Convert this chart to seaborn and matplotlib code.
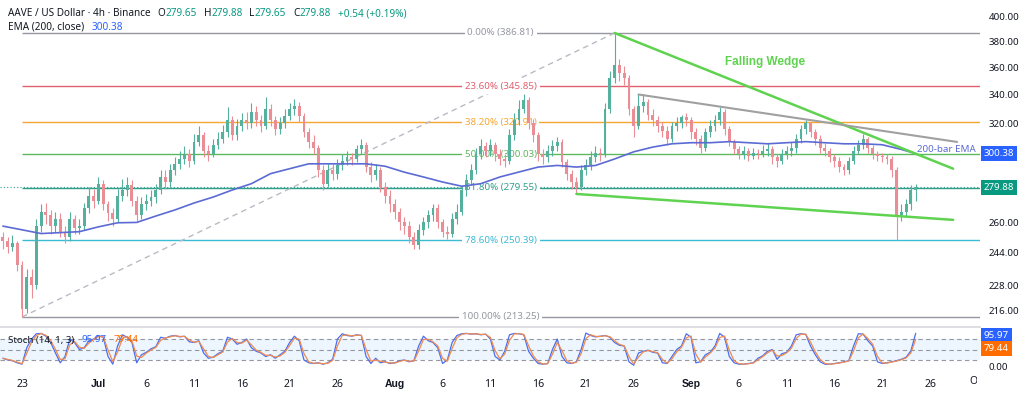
import numpy as np
import pandas as pd
import matplotlib
matplotlib.use("Agg")
import matplotlib.pyplot as plt
import matplotlib.dates as mdates
import matplotlib.transforms as mtrans
from matplotlib.ticker import FixedLocator, NullLocator
from matplotlib.offsetbox import TextArea, HPacker, AnchoredOffsetbox
import seaborn as sns

# 12h candles, 21 Jun -> 24 Sep
candle_start = "2025-06-21 00:00"
first_open = 252
closes = [250, 247, 249, 238, 217, 232, 228, 258, 266, 264,
          258, 262, 255, 252, 262, 257, 258, 268, 275, 272,
          282, 270, 265, 262, 275, 278, 281, 272, 264, 270,
          272, 274, 278, 286, 283, 290, 294, 297, 300, 296,
          308, 312, 302, 300, 306, 310, 314, 322, 312, 318,
          322, 320, 328, 322, 318, 330, 322, 316, 320, 325,
          330, 332, 325, 314, 308, 304, 290, 282, 290, 288,
          293, 296, 298, 297, 303, 306, 292, 287, 290, 280,
          275, 270, 266, 260, 258, 252, 248, 256, 260, 264,
          268, 260, 255, 254, 262, 266, 278, 284, 290, 300,
          305, 302, 306, 300, 297, 296, 312, 322, 330, 336,
          320, 312, 300, 298, 302, 305, 308, 295, 288, 283,
          280, 290, 293, 298, 301, 300, 330, 352, 362, 356,
          352, 330, 318, 332, 335, 326, 322, 318, 315, 310,
          318, 320, 324, 322, 314, 310, 304, 314, 318, 322,
          328, 316, 308, 303, 300, 302, 299, 301, 300, 302,
          303, 298, 296, 300, 302, 304, 310, 316, 320, 314,
          310, 304, 302, 298, 296, 292, 290, 296, 302, 306,
          310, 304, 300, 299, 298, 297, 290, 264, 266, 270,
          278, 279.88]
highs = [255, 252, 253, 250, 240, 236, 236, 262, 270, 271,
         267, 266, 265, 258, 266, 264, 262, 271, 280, 279,
         286, 284, 272, 268, 279, 285, 286, 284, 275, 274,
         276, 278, 282, 290, 290, 294, 298, 302, 305, 303,
         313, 318, 314, 306, 310, 314, 319, 331, 325, 323,
         327, 328, 334, 332, 326, 338, 333, 325, 324, 330,
         334, 337, 335, 327, 317, 312, 306, 293, 294, 294,
         297, 300, 302, 301, 306, 310, 308, 295, 294, 292,
         283, 278, 273, 268, 263, 261, 255, 259, 263, 267,
         270, 270, 262, 258, 265, 270, 281, 288, 294, 304,
         310, 308, 310, 308, 303, 300, 316, 327, 336, 340,
         338, 323, 314, 303, 306, 309, 311, 310, 297, 290,
         286, 293, 297, 302, 305, 304, 334, 357, 386.81, 366,
         361, 354, 332, 340, 340, 337, 330, 325, 321, 318,
         321, 324, 326, 327, 324, 317, 312, 317, 322, 326,
         331, 330, 318, 310, 305, 305, 304, 304, 303, 306,
         307, 305, 300, 303, 305, 308, 313, 319, 322, 321,
         316, 312, 307, 304, 300, 298, 294, 298, 305, 309,
         313, 311, 306, 302, 301, 300, 299, 292, 270, 273,
         281, 282]
lows = [246, 244, 245, 235, 213.25, 215, 222, 226, 255, 259,
        254, 255, 252, 249, 250, 254, 254, 256, 265, 268,
        270, 267, 261, 258, 260, 272, 275, 269, 261, 262,
        267, 269, 271, 276, 279, 280, 287, 291, 294, 292,
        294, 305, 298, 296, 298, 303, 307, 311, 309, 309,
        315, 316, 317, 318, 314, 316, 318, 312, 313, 317,
        322, 326, 321, 311, 304, 300, 286, 278, 280, 284,
        285, 290, 293, 293, 295, 300, 289, 283, 284, 277,
        271, 266, 262, 256, 254, 249, 246, 246, 253, 257,
        261, 257, 252, 251, 252, 259, 264, 275, 281, 288,
        297, 298, 299, 296, 293, 292, 294, 309, 319, 327,
        316, 308, 296, 294, 295, 299, 302, 292, 284, 279,
        276, 278, 287, 290, 295, 296, 298, 327, 348, 350,
        347, 326, 311, 316, 328, 322, 318, 314, 311, 306,
        308, 315, 317, 318, 310, 306, 301, 302, 311, 315,
        319, 312, 305, 300, 297, 297, 296, 297, 297, 298,
        299, 294, 292, 294, 297, 299, 301, 307, 313, 311,
        306, 301, 299, 295, 292, 289, 287, 288, 294, 300,
        303, 301, 297, 296, 295, 294, 286, 250.39, 261, 263,
        267, 272]

# EMA(200) read every 4th candle, plus the last one
ema_vals = [258, 256, 254, 254.5, 255, 257.6, 259.8, 260, 263.5, 266.9,
            270.8, 274.2, 278.3, 282, 288, 291, 294, 294, 294, 294,
            292.5, 288.9, 286, 283, 280.5, 282, 286, 289, 292, 293,
            292, 293, 297, 301.5, 304.5, 306.6, 307.3, 307.3, 308, 307.3,
            306.6, 307.3, 308, 307.3, 306.6, 306.6, 306, 303, 300.38]

stoch_k = [25, 20, 18, 12, 8, 55, 80, 95, 96, 88,
           70, 40, 12, 30, 80, 70, 50, 55, 75, 80,
           90, 85, 30, 8, 60, 92, 85, 70, 12, 35,
           42, 52, 58, 85, 82, 88, 90, 86, 88, 72,
           70, 75, 40, 25, 28, 38, 45, 85, 80, 65,
           70, 80, 55, 45, 40, 30, 35, 25, 35, 45,
           70, 88, 75, 20, 12, 10, 12, 8, 12, 22,
           80, 95, 90, 88, 92, 90, 30, 10, 25, 12,
           15, 10, 12, 18, 20, 15, 18, 60, 88, 75,
           70, 55, 10, 20, 70, 90, 95, 96, 94, 95,
           92, 94, 80, 30, 20, 45, 92, 96, 95, 92,
           45, 25, 10, 8, 10, 50, 80, 30, 12, 10,
           15, 50, 97, 90, 86, 88, 90, 85, 70, 62,
           60, 15, 5, 40, 45, 48, 42, 40, 12, 10,
           30, 50, 60, 95, 85, 12, 15, 35, 42, 60,
           96, 85, 30, 12, 8, 8, 10, 12, 25, 32,
           45, 50, 22, 38, 42, 60, 92, 95, 93, 60,
           35, 15, 8, 8, 10, 12, 15, 18, 60, 95,
           94, 75, 60, 15, 10, 12, 15, 18, 22, 28,
           46.4, 95.97]

fib_pcts = ["0.00%", "23.60%", "38.20%", "50.00%", "61.80%", "78.60%", "100.00%"]
fib_prices = [386.81, 345.85, 320.91, 300.03, 279.55, 250.39, 213.25]
fib_colors = ["#9598a1", "#e0606e", "#f7a634", "#5cb85c", "#2f9e8b", "#3cbcd4", "#9598a1"]

# trend lines (dates, prices)
wedge_top = (["2025-08-24 00:00", "2025-09-28 10:00"], [386.81, 291.0])
wedge_bottom = (["2025-08-20 00:00", "2025-09-28 10:00"], [276.0, 261.4])
gray_top = (["2025-08-26 12:00", "2025-09-28 20:00"], [340.0, 307.8])

price_ticks = [216, 228, 244, 260, 320, 340, 360, 380, 400]
tick_dates = ["2025-06-23", "2025-07-01", "2025-07-06", "2025-07-11", "2025-07-16",
              "2025-07-21", "2025-07-26", "2025-08-01", "2025-08-06", "2025-08-11",
              "2025-08-16", "2025-08-21", "2025-08-26", "2025-09-01", "2025-09-06",
              "2025-09-11", "2025-09-16", "2025-09-21", "2025-09-26"]
tick_labels = ["23", "Jul", "6", "11", "16", "21", "26", "Aug", "6", "11",
               "16", "21", "26", "Sep", "6", "11", "16", "21", "26"]

last_close = 279.88
last_ema = 300.38
last_k = 95.97
last_d = 79.44

UP, DOWN = "#55b09e", "#ea8d94"
EMA_C = "#5c6bd4"
GREEN = "#5fd34f"
TEXT_C = "#131722"
TEAL = "#089981"
BOLD_FONT = ["Liberation Sans", "DejaVu Sans"]

sns.set_theme(style="white")
plt.rcParams["font.family"] = ["Noto Sans", "DejaVu Sans"]

W, H = 1024, 398
fig = plt.figure(figsize=(W / 100, H / 100), dpi=100)
fig.patch.set_facecolor("white")


def px_rect(l, t, r, b):
    return [l / W, 1 - b / H, (r - l) / W, (b - t) / H]


ax = fig.add_axes(px_rect(0, 4, 980, 327))
ax2 = fig.add_axes(px_rect(0, 329, 980, 372), sharex=ax)

d2n = lambda s: mdates.date2num(pd.to_datetime(s))
times = pd.date_range(candle_start, periods=len(closes), freq="12h")
x = mdates.date2num(times.to_pydatetime())
x_left = d2n("2025-06-20 16:45")
x_right = d2n("2025-10-01 05:30")

# candles
opens = [first_open] + closes[:-1]
df = pd.DataFrame(dict(x=x, o=opens, h=highs, l=lows, c=closes))
col = np.where(df.c >= df.o, UP, DOWN)
ax.vlines(df.x, df.l, df.h, colors=col, lw=0.8, zorder=3)
ax.bar(df.x, (df.c - df.o).abs().clip(lower=0.7), bottom=df[["o", "c"]].min(axis=1),
       width=0.3, color=col, lw=0, zorder=3)

# fib retracement
fib_x0 = x[4]
label_x = d2n("2025-08-12 02:00")
for pct, p, c in zip(fib_pcts, fib_prices, fib_colors):
    ax.hlines(p, fib_x0, x_right, colors=c, lw=1, zorder=2)
    ax.text(label_x, p, f"{pct} ({p:.2f})", color=c, fontsize=7, ha="center", va="center",
            zorder=2.5, bbox=dict(boxstyle="square,pad=0.3", fc="white", ec="none"))
ax.plot([x[4], x[128]], [213.25, 386.81], color="#b8bbc4", lw=1, ls=(0, (4, 3)), zorder=2)
ax.axhline(last_close, color="#2f9e8b", lw=0.8, ls=(0, (1, 2)), zorder=2)

# EMA
ema_idx = list(range(0, len(closes), 4)) + [len(closes) - 1]
sns.lineplot(x=x[ema_idx], y=ema_vals, ax=ax, color=EMA_C, lw=1.2, zorder=4)

# trend lines
for (ds, ps), c, lw in [(wedge_top, GREEN, 1.8), (wedge_bottom, GREEN, 1.8), (gray_top, "#a0a0a0", 1.5)]:
    ax.plot([d2n(d) for d in ds], ps, color=c, lw=lw, zorder=5, solid_capstyle="round")

ax.text(d2n("2025-09-08 18:00"), 364, "Falling Wedge", color=GREEN, fontsize=8.5,
        fontweight="bold", family=BOLD_FONT, ha="center", va="center", zorder=6)
ax.text(x[-1] + 0.1, 303, "200-bar EMA", color=EMA_C, fontsize=7, ha="left", va="center", zorder=6)

ax.set_yscale("log")
ax.set_ylim(208.8, 411.05)
ax.set_xlim(x_left, x_right)
ax.yaxis.set_major_locator(FixedLocator(price_ticks))
ax.yaxis.set_minor_locator(NullLocator())
ax.set_yticklabels([f"{v:.2f}" for v in price_ticks])
ax.yaxis.tick_right()
ax.tick_params(axis="y", length=0, pad=6, labelsize=7, labelcolor=TEXT_C)
ax.tick_params(axis="x", bottom=False, labelbottom=False)
for s in ax.spines.values():
    s.set_visible(False)
ax.spines["bottom"].set_visible(True)
ax.spines["bottom"].set_color("#d9dbe0")
ax.set_xlabel("")
ax.set_ylabel("")

blend = mtrans.blended_transform_factory(ax.transAxes, ax.transData)
ax.text(1.004, last_ema, f"{last_ema:.2f}", transform=blend, color="white", fontsize=7,
        ha="left", va="center", bbox=dict(boxstyle="square,pad=0.3", fc="#2962ff", ec="none"))
ax.text(1.004, last_close, f"{last_close:.2f}", transform=blend, color="white", fontsize=7,
        ha="left", va="center", bbox=dict(boxstyle="square,pad=0.3", fc=TEAL, ec="none"))

# stochastic panel
k = np.array(stoch_k, dtype=float)
d = k.copy()
d[1:] = (2 * k[1:] + k[:-1]) / 3  # %D trails %K by about one 4h bar
ax2.axhspan(20, 80, color="#2196f3", alpha=0.08, lw=0)
for lvl in (20, 50, 80):
    ax2.axhline(lvl, color="#9598a1", lw=0.8, ls=(0, (4, 3)))
sns.lineplot(x=x, y=k, ax=ax2, color="#4a6ff0", lw=0.9)
sns.lineplot(x=x, y=d, ax=ax2, color="#f08a50", lw=0.9)
ax2.set_ylim(-14.3, 108.6)
ax2.set_xlim(x_left, x_right)
ax2.yaxis.set_major_locator(FixedLocator([0]))
ax2.set_yticklabels(["0.00"])
ax2.yaxis.tick_right()
ax2.tick_params(axis="y", length=0, pad=6, labelsize=7, labelcolor=TEXT_C)
ax2.set_xticks([d2n(t) for t in tick_dates], tick_labels)
ax2.tick_params(axis="x", length=0, pad=5, labelsize=7.5, labelcolor=TEXT_C)
for lbl in ax2.get_xticklabels():
    if lbl.get_text() in ("Jul", "Aug", "Sep"):
        lbl.set_fontweight("bold")
        lbl.set_family(BOLD_FONT)
for s in ax2.spines.values():
    s.set_visible(False)
ax2.set_xlabel("")
ax2.set_ylabel("")

blend2 = mtrans.blended_transform_factory(ax2.transAxes, ax2.transData)
ax2.text(1.004, 90, f"{last_k:.2f}", transform=blend2, color="white", fontsize=7,
         ha="left", va="center", bbox=dict(boxstyle="square,pad=0.3", fc="#2962ff", ec="none"))
ax2.text(1.004, 53, f"{last_d:.2f}", transform=blend2, color="white", fontsize=7,
         ha="left", va="center", bbox=dict(boxstyle="square,pad=0.3", fc="#ff6d00", ec="none"))

# "Oct" label cut off by the price scale
oct_t = fig.text(d2n("2025-10-01"), (H - 382) / H, "Oct", fontsize=7.5, color=TEXT_C,
                 ha="center", va="center",
                 transform=mtrans.blended_transform_factory(ax2.transData, fig.transFigure))
oct_t.set_clip_on(True)
oct_t.set_clip_box(mtrans.TransformedBbox(mtrans.Bbox([[0, 0], [977 / W, 1]]), fig.transFigure))


def text_row(groups, x_px, y_px, size, gap=5):
    # each group is a list of (text, colour) drawn without gaps; groups are spaced by `gap`
    packs = []
    for parts in groups:
        boxes = [TextArea(t, textprops=dict(color=c, fontsize=size)) for t, c in parts]
        packs.append(HPacker(children=boxes, align="baseline", pad=0, sep=0))
    row = HPacker(children=packs, align="baseline", pad=0, sep=gap)
    box = AnchoredOffsetbox(loc="center left", child=row, frameon=False, pad=0, borderpad=0,
                            bbox_to_anchor=(x_px / W, 1 - y_px / H), bbox_transform=fig.transFigure)
    fig.add_artist(box)


text_row([[("AAVE / US Dollar · 4h · Binance", TEXT_C)],
          [("O", TEXT_C), ("279.65", TEAL)], [("H", TEXT_C), ("279.88", TEAL)],
          [("L", TEXT_C), ("279.65", TEAL)], [("C", TEXT_C), ("279.88", TEAL)],
          [("+0.54 (+0.19%)", TEAL)]], 8, 14, 7.2)
text_row([[("EMA (200, close)", TEXT_C)], [(f"{last_ema:.2f}", "#2962ff")]], 8, 27, 7.2)
text_row([[("Stoch (14, 1, 3)", TEXT_C)], [(f"{last_k:.2f}", "#2962ff")], [(f"{last_d:.2f}", "#ff6d00")]],
         8, 340, 7)

fig.savefig("out.png", dpi=100, facecolor="white")
